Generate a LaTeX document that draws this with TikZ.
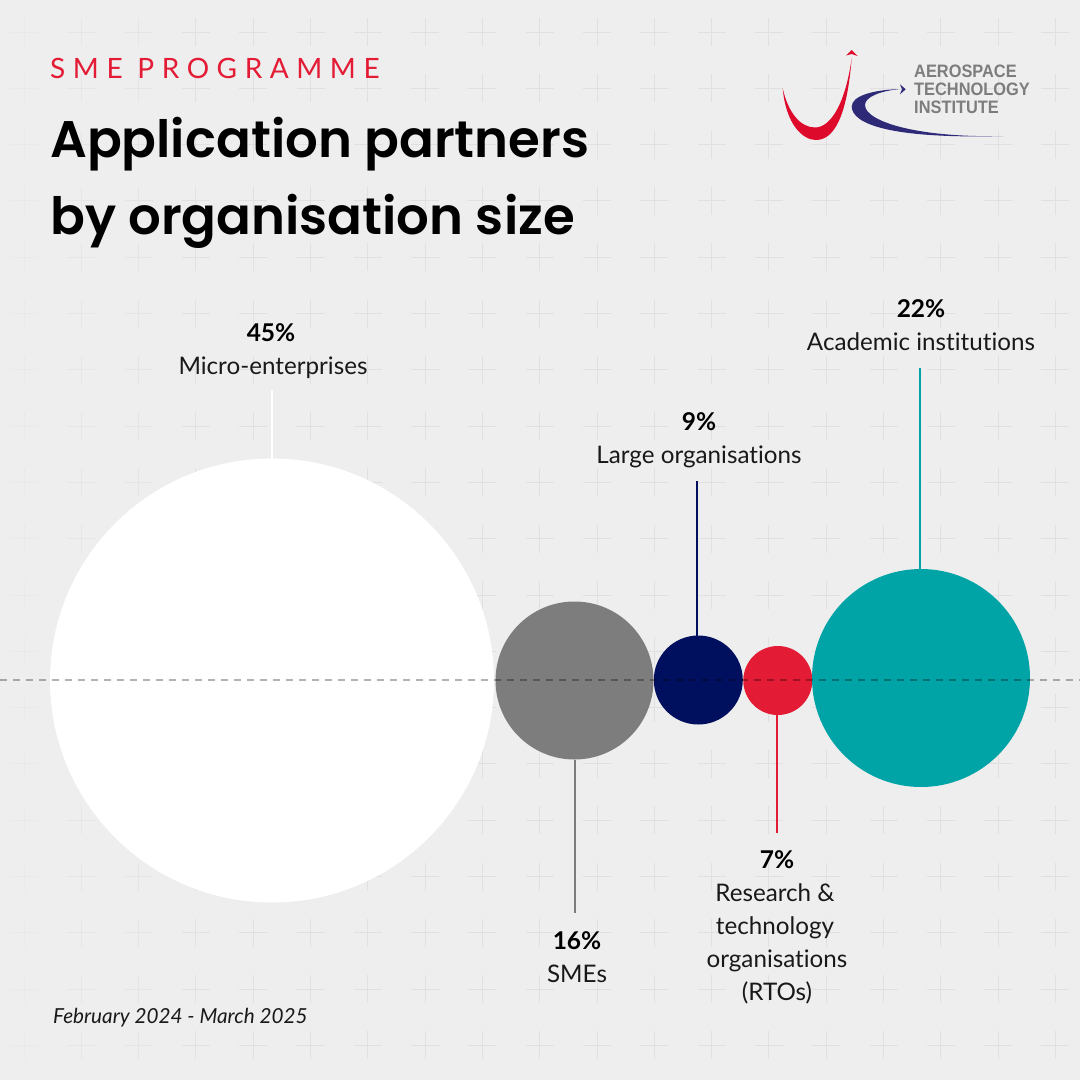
\documentclass[tikz,border=0pt]{standalone}
\usepackage{fontspec}
\setmainfont{Lato}[Ligatures=NoCommon]
\newfontfamily\logofont{Liberation Sans}[FakeStretch=0.91]
\newfontfamily\kickerfont{Lato}[LetterSpace=27,Ligatures=NoCommon]
\newfontfamily\titlefont{Poppins SemiBold}
\definecolor{bgc}{HTML}{EEEEEE}
\definecolor{plusc}{HTML}{E0E0E0}
\definecolor{redc}{HTML}{E31B35}
\definecolor{greyc}{HTML}{7D7D7D}
\definecolor{navyc}{HTML}{000F5E}
\definecolor{tealc}{HTML}{00A3A6}
\definecolor{logoblue}{HTML}{2E2A78}
\definecolor{logored}{HTML}{DE0A2B}
\tikzset{
  x=1pt,y=-1pt,
  bubble/.style={circle,inner sep=0pt,outer sep=0pt,draw=none},
  lbl/.style={anchor=base,inner sep=0pt,font=\fontsize{24.2}{33}\selectfont,text=black!90,align=center},
  pct/.style={anchor=base,inner sep=0pt,font=\fontsize{24.5}{33}\selectfont\bfseries,text=black},
  conn/.style={line width=1.8pt},
  ttl/.style={anchor=base west,inner sep=0pt,font=\titlefont\fontsize{51.4}{60}\selectfont,text=black},
  logotxt/.style={anchor=base west,inner sep=0pt,font=\logofont\fontsize{18}{20}\selectfont\bfseries,text=greyc},
}
\begin{document}
\begin{tikzpicture}
\useasboundingbox (0,0) rectangle (1080,1080);
\fill[bgc] (0,0) rectangle (1080,1080);
% background crosses
\foreach \c in {0,...,18}{
  \foreach \r in {0,...,18}{
    \pgfmathsetmacro{\px}{24+57.3*\c}
    \pgfmathsetmacro{\py}{32+56.3*\r}
    \pgfmathsetmacro{\op}{min(1,0.3+0.2*\c)}
    \draw[plusc,line width=1pt,opacity=\op] (\px-14,\py) -- (\px+14,\py) (\px,\py-14) -- (\px,\py+14);
  }
}
% bubbles
\node[bubble,fill=white,minimum size=444pt] (micro) at (272,680.5) {};
\node[bubble,fill=greyc,minimum size=158pt] (sme) at (574.5,680.5) {};
\node[bubble,fill=navyc,minimum size=89pt] (large) at (698.3,680) {};
\node[bubble,fill=redc,minimum size=69pt] (rto) at (777.8,680.5) {};
\node[bubble,fill=tealc,minimum size=218pt] (acad) at (921,678) {};
% connector free ends
\coordinate (microend) at (272,390);
\coordinate (smeend) at (575,913);
\coordinate (largeend) at (697,481);
\coordinate (rtoend) at (777,833);
\coordinate (acadend) at (920,368);
\draw[conn,white] (microend |- micro.north) -- (microend);
\draw[conn,greyc] (smeend |- sme.south) -- (smeend);
\draw[conn,navyc] (largeend |- large.north) -- (largeend);
\draw[conn,redc] (rtoend |- rto.south) -- (rtoend);
\draw[conn,tealc] (acadend |- acad.north) -- (acadend);
% dashed axis
\coordinate (axl) at (0,680);
\coordinate (axr) at (1080,680);
\draw[black,opacity=0.3,line width=1.3pt,dash pattern=on 7pt off 6pt] (axl) -- (axr);
% header
\node[anchor=base west,inner sep=0pt,font=\kickerfont\fontsize{28}{30}\selectfont,text=redc] (kicker) at (50,78) {SME PROGRAMME};
\node[ttl] (t1) at (50,157) {Application partners};
\node[ttl] (t2) at (50,234) {by organisation size};
% labels
\node[pct] (p1) at (271,341) {45\%};
\node[lbl] (l1) at (273,374) {Micro-enterprises};
\node[pct] (p2) at (577,949) {16\%};
\node[lbl] (l2) at (577,982) {SMEs};
\node[pct] (p3) at (699,430) {9\%};
\node[lbl] (l3) at (699,463) {Large organisations};
\node[pct] (p4) at (777,868) {7\%};
\node[lbl] (l4a) at (775,901) {Research \&};
\node[lbl] (l4b) at (775,934) {technology};
\node[lbl] (l4c) at (777,967) {organisations};
\node[lbl] (l4d) at (777,1000) {(RTOs)};
\node[pct] (p5) at (921,317) {22\%};
\node[lbl] (l5) at (921,350) {Academic institutions};
\node[anchor=base west,inner sep=0pt,font=\fontsize{20.7}{24}\selectfont\itshape,text=black!90] (date) at (53,1023) {February 2024 - March 2025};
% logo
\fill[logored] (782.7,88.3) .. controls (786,125) and (803,140) .. (816,140)
  .. controls (838,140) and (848,105) .. (851.7,58)
  .. controls (846,100) and (832,127.5) .. (815,127.5)
  .. controls (800,127.5) and (788,112) .. (782.7,88.3) -- cycle;
\fill[logored] (846,55.5) -- (851.7,50) -- (857.5,56) -- (851.7,54) -- cycle;
\fill[logoblue] (900,89) .. controls (872,90) and (852,96) .. (851.7,106.5)
  .. controls (852,124) and (890,139) .. (1003.3,136)
  .. controls (920,138) and (865,122) .. (865,105)
  .. controls (865,97) and (880,91) .. (900,89) -- cycle;
\fill[logoblue] (900,84.3) -- (905.7,89.3) -- (900,94.3) -- (902,89.3) -- cycle;
\node[logotxt] (lg1) at (914,77) {AEROSPACE};
\node[logotxt] (lg2) at (914,95) {TECHNOLOGY};
\node[logotxt] (lg3) at (914,113) {INSTITUTE};
\end{tikzpicture}
\end{document}
